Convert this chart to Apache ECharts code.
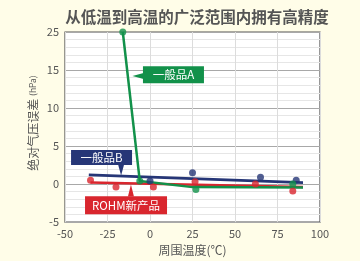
<!DOCTYPE html>
<html><head><meta charset="utf-8">
<script src="https://cdn.jsdelivr.net/npm/echarts@6/dist/echarts.min.js"></script>
<style>html,body{margin:0;padding:0;background:#FFFDE8;}#c{width:360px;height:261px;}</style>
</head><body><div id="c"></div>
<script>
// Data (x = ambient temperature °C, y = absolute pressure error hPa)
const seriesNames = ['一般品A', '一般品B', 'ROHM新产品'];
const pointsA = [[-16, 25], [-6, 0.4], [27, -0.7], [84, 0]];
const lineA = [[-16, 25], [-6, 0.4], [25, -0.4], [90, -0.45]];
const pointsB = [[0, 0.4], [25, 1.5], [65, 0.9], [86, 0.5]];
const lineB = [[-36, 1.2], [90, 0.2]];
const pointsR = [[-35, 0.5], [-20, -0.4], [2, -0.4], [26.5, 0.3], [62, 0], [84, -0.9]];
const lineR = [[-35, 0.2], [90, -0.4]];
const xTicks = [-50, -25, 0, 25, 50, 75, 100];
const yTickLabels = ['-5', '0', '5', '10', '15', '25'];
const title = '从低温到高温的广泛范围内拥有高精度';
const yName = '绝对气压误差';
const yUnit = '(hPa)';
const xName = '周围温度(℃)';

// broken y axis: values above 15 are compressed (15..25 -> 15..20)
function by(v) { return v <= 15 ? v : 15 + (v - 15) / 2; }
function mapPts(a) { return a.map(p => [p[0], by(p[1])]); }
const yLabelMap = {'-5': yTickLabels[0], '0': yTickLabels[1], '5': yTickLabels[2], '10': yTickLabels[3], '15': yTickLabels[4], '20': yTickLabels[5]};

const cG = '#12914A', cB = '#263677', cR = '#D9262E';
const font = 'Noto Sans CJK SC';

const chart = echarts.init(document.getElementById('c'), null, { renderer: 'canvas' });
chart.setOption({
  backgroundColor: '#FFFDE8',
  animation: false,
  textStyle: { fontFamily: font },
  title: { text: title, left: 192, top: 4, textAlign: 'center',
    textStyle: { fontSize: 15.5, fontWeight: 'bold', color: '#555', fontFamily: font } },
  graphic: [{
    type: 'text', x: 33, y: 123, rotation: Math.PI / 2,
    style: { text: '{a|' + yName + ' }{b|' + yUnit + '}', align: 'center', verticalAlign: 'middle',
      rich: { a: { fontSize: 12, fill: '#555', fontFamily: font }, b: { fontSize: 8.5, fill: '#555', fontFamily: font } } }
  }],
  grid: { left: 65, right: 40, top: 32, bottom: 36, show: true, backgroundColor: '#fff', borderColor: '#555', borderWidth: 1.2 },
  xAxis: {
    type: 'value', min: xTicks[0], max: xTicks[xTicks.length - 1], interval: 25,
    name: xName, nameLocation: 'middle', nameGap: 20,
    nameTextStyle: { fontSize: 12, color: '#555', fontFamily: font },
    axisLine: { show: false }, axisTick: { show: false },
    axisLabel: { color: '#555', fontSize: 11, margin: 6, fontFamily: font },
    splitLine: { show: true, lineStyle: { color: '#dcdcdc', width: 1 } }
  },
  yAxis: {
    type: 'value', min: -5, max: 20, interval: 5,
    axisLine: { show: false }, axisTick: { show: false },
    axisLabel: { color: '#555', fontSize: 11, margin: 6, fontFamily: font, formatter: v => yLabelMap[String(v)] },
    splitLine: { show: true, lineStyle: { color: '#a8a8a8', width: 1 } },
    minorTick: { show: false, splitNumber: 5 },
    minorSplitLine: { show: true, lineStyle: { color: '#e6e6e6', width: 1 } }
  },
  series: [
    { name: seriesNames[1] + 'L', type: 'line', data: lineB, symbol: 'none', lineStyle: { color: cB, width: 2.8 }, z: 2 },
    { name: seriesNames[2] + 'L', type: 'line', data: lineR, symbol: 'none', lineStyle: { color: cR, width: 2.5 }, z: 3 },
    { name: seriesNames[0] + 'L', type: 'line', data: mapPts(lineA), symbol: 'none', lineStyle: { color: cG, width: 2.5 }, z: 4 },
    { name: seriesNames[1], type: 'scatter', data: pointsB, symbolSize: 7, itemStyle: { color: cB }, z: 5 },
    { name: seriesNames[2], type: 'scatter', data: pointsR, symbolSize: 7, itemStyle: { color: cR }, z: 5 },
    { name: seriesNames[0], type: 'scatter', data: mapPts(pointsA), symbolSize: 7, itemStyle: { color: cG }, z: 6 },
    { type: 'scatter', data: [], z: 10,
      markPoint: { silent: true, data: [
        { coord: [-6.5, 14.2], symbol: 'triangle', symbolSize: [7, 13], symbolRotate: 90, itemStyle: { color: cG }, label: { show: false } },
        { coord: [13.8, 14.37], symbol: 'rect', symbolSize: [61, 17], itemStyle: { color: cG },
          label: { show: true, position: 'inside', formatter: seriesNames[0], color: '#fff', fontSize: 11.5, fontFamily: font } },
        { coord: [-17, 1.85], symbol: 'triangle', symbolSize: [6, 11], symbolRotate: 180, itemStyle: { color: cB }, label: { show: false } },
        { coord: [-28.5, 3.48], symbol: 'rect', symbolSize: [61, 15], itemStyle: { color: cB },
          label: { show: true, position: 'inside', formatter: seriesNames[1], color: '#fff', fontSize: 11.5, fontFamily: font } },
        { coord: [-11.2, -0.85], symbol: 'triangle', symbolSize: [6, 12], itemStyle: { color: cR }, label: { show: false } },
        { coord: [-14.1, -2.8], symbol: 'rect', symbolSize: [82, 18], itemStyle: { color: cR },
          label: { show: true, position: 'inside', formatter: seriesNames[2], color: '#fff', fontSize: 11.5, fontFamily: font } }
      ] } }
  ]
});
</script></body></html>
